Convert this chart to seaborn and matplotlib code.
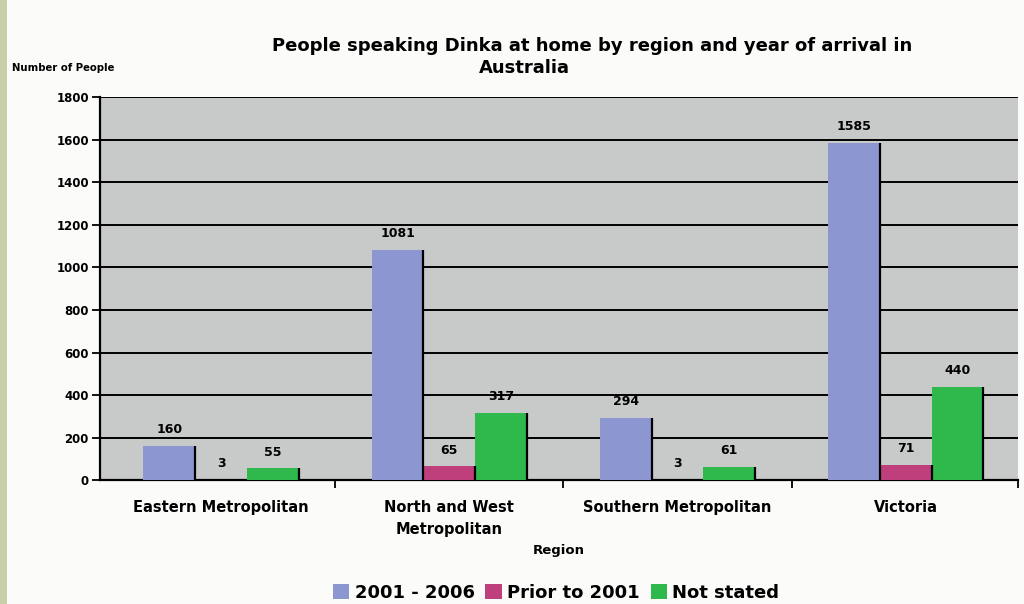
import matplotlib
matplotlib.use("Agg")
import matplotlib.pyplot as plt
import seaborn as sns
import pandas as pd
from matplotlib.patches import Rectangle

regions = ["Eastern Metropolitan", "North and West\nMetropolitan", "Southern Metropolitan", "Victoria"]
series = ["2001 - 2006", "Prior to 2001", "Not stated"]
arrival_2001_2006 = [160, 1081, 294, 1585]
prior_to_2001 = [3, 65, 3, 71]
not_stated = [55, 317, 61, 440]
yticks = [0, 200, 400, 600, 800, 1000, 1200, 1400, 1600, 1800]
colors = ["#8c97d2", "#bf3f7c", "#2fb84c"]

rows = []
for s, vals in zip(series, [arrival_2001_2006, prior_to_2001, not_stated]):
    for r, v in zip(regions, vals):
        rows.append({"Region": r, "Series": s, "Value": v})
df = pd.DataFrame(rows)

sns.set_theme(style="white")
plt.rcParams["font.family"] = ["DejaVu Sans"]
plt.rcParams["text.color"] = "black"
plt.rcParams["axes.labelcolor"] = "black"
plt.rcParams["xtick.color"] = "black"
plt.rcParams["ytick.color"] = "black"

fig = plt.figure(figsize=(10.24, 6.04), dpi=100)
fig.patch.set_facecolor("#fbfbf9")
ax = fig.add_axes([0.0977, 0.205, 0.896, 0.634])
ax.set_facecolor("#c8c9c9")

sns.barplot(data=df, x="Region", y="Value", hue="Series", palette=colors,
            width=0.68, ax=ax, saturation=1, legend=True, zorder=3, linewidth=0)

ax.set_ylim(0, 1800)
ax.set_xlim(-0.53, 3.49)
ax.set_yticks(yticks)
ax.set_yticklabels([str(t) for t in yticks], fontsize=8.5, fontweight="bold")
ax.yaxis.grid(True, color="black", linewidth=1.4, zorder=0)
ax.set_axisbelow(True)
ax.tick_params(axis="y", direction="out", length=6, width=1.3, color="black", left=True, pad=2)
ax.set_xticks(range(len(regions)))
ax.set_xticklabels(regions, fontsize=10.5, fontweight="bold", linespacing=1.6)
ax.tick_params(axis="x", which="major", length=0, pad=14)
ax.set_xticks([0.5, 1.5, 2.5, 3.49], minor=True)
ax.tick_params(axis="x", which="minor", direction="out", length=6, width=1.3, color="black", bottom=True)

for sp in ["top", "right"]:
    ax.spines[sp].set_visible(False)
for sp in ["left", "bottom"]:
    ax.spines[sp].set_color("black")
    ax.spines[sp].set_linewidth(1.6)

for cont in ax.containers:
    ax.bar_label(cont, labels=[f"{int(v)}" for v in cont.datavalues],
                 fontsize=9, fontweight="bold", padding=7)
    for p in cont.patches:
        ax.plot([p.get_x() + p.get_width()] * 2, [0, p.get_height()],
                color="black", linewidth=1.6, zorder=4, solid_capstyle="butt")

ax.set_xlabel("Region", fontsize=9.5, fontweight="bold", labelpad=5)
ax.set_ylabel("")

fig.text(0.578, 1 - 46 / 604, "People speaking Dinka at home by region and year of arrival in",
         ha="center", va="center", fontsize=13, fontweight="bold")
fig.text(0.512, 1 - 68 / 604, "Australia",
         ha="center", va="center", fontsize=13, fontweight="bold")
fig.text(0.012, 0.888, "Number of People", ha="left", va="center", fontsize=7.3, fontweight="bold")

handles, labels = ax.get_legend_handles_labels()
ax.get_legend().remove()
fig.legend(handles, labels, loc="center", bbox_to_anchor=(0.543, 0.018), ncol=3,
           frameon=False, handlelength=0.9, handleheight=0.9,
           handletextpad=0.3, columnspacing=0.6, prop={"weight": "bold", "size": 13})

fig.patches.append(Rectangle((0, 0), 0.007, 1, transform=fig.transFigure,
                             facecolor="#c9cfa8", edgecolor="none", zorder=0))

fig.savefig("out.png", dpi=100, facecolor=fig.get_facecolor())
